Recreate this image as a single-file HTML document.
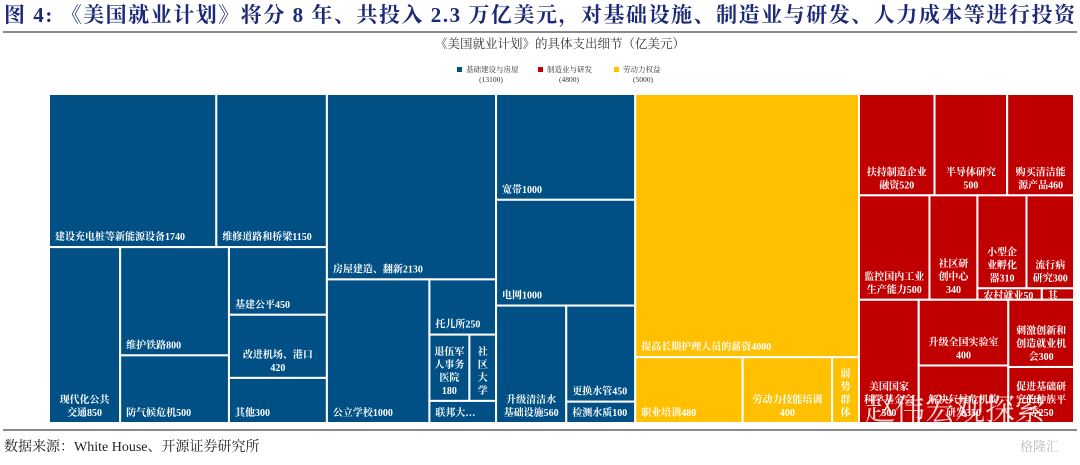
<!DOCTYPE html>
<html><head><meta charset="utf-8">
<style>
html,body{margin:0;padding:0;background:#fff;}
body{width:1080px;height:460px;overflow:hidden;position:relative;font-family:"Liberation Serif","Noto Serif CJK SC",serif;}
svg text{font-family:"Liberation Serif","Noto Serif CJK SC",serif;}
</style></head>
<body>
<svg id="chart" width="1080" height="460" viewBox="0 0 1080 460" xmlns="http://www.w3.org/2000/svg">
  <text x="4" y="22" font-size="21" font-weight="bold" fill="#1c2a78" textLength="1071" lengthAdjust="spacing">图 4:  《美国就业计划》将分 8 年、共投入 2.3 万亿美元，对基础设施、制造业与研发、人力成本等进行投资</text>
  <rect x="3" y="31" width="1074" height="2" fill="#8a8a8a"/>
  <text x="560" y="48" font-size="12.5" text-anchor="middle" fill="#333">《美国就业计划》的具体支出细节（亿美元）</text>
  <g font-size="7.5" fill="#333">
    <rect x="457" y="67" width="5" height="5" fill="#005086"/>
    <text x="466" y="72">基础建设与房屋</text>
    <text x="491" y="82" text-anchor="middle">(13100)</text>
    <rect x="538" y="67" width="5" height="5" fill="#c00000"/>
    <text x="547" y="72">制造业与研发</text>
    <text x="569" y="82" text-anchor="middle">(4800)</text>
    <rect x="614" y="67" width="5" height="5" fill="#ffc000"/>
    <text x="623" y="72">劳动力权益</text>
    <text x="643" y="82" text-anchor="middle">(5000)</text>
  </g>
  <g id="cells"></g>
  <text x="865" y="420" font-size="30" fill="#ffffff" fill-opacity="0.85" font-family="Liberation Sans, Noto Sans CJK SC, sans-serif">赵伟宏观探索</text>
  <rect x="3" y="429" width="1074" height="2" fill="#8a8a8a"/>
  <text x="4" y="451" font-size="14" fill="#222">数据来源：White House、开源证券研究所</text>
  <text x="1020" y="451" font-size="13" fill="#bbb" font-family="Liberation Sans, Noto Sans CJK SC, sans-serif">格隆汇</text>
</svg>
<script>
const leafLabels = [
 "建设充电桩等新能源设备1740","维修道路和桥梁1150","现代化公共|交通850","维护铁路800","防气候危机500",
 "基建公平450","改进机场、港口|420","其他300",
 "房屋建造、翻新2130","公立学校1000","托儿所250","退伍军|人事务|医院|180","社|区|大|学","联邦大…",
 "宽带1000","电网1000","升级清洁水|基础设施560","更换水管450","检测水质100",
 "提高长期护理人员的薪资4000","职业培训480","劳动力技能培训|400","弱|势|群|体",
 "扶持制造企业|融资520","半导体研究|500","购买清洁能|源产品460",
 "监控国内工业|生产能力500","社区研|创中心|340","小型企|业孵化|器310","流行病|研究300","农村就业50","其",
 "美国国家|科学基金会|500","升级全国实验室|400","解决气候危机的|研发350","刺激创新和|创造就业机|会300","促进基础研|究的种族平|等250"
];
const leafValues = [1740,1150,850,800,500,450,420,300,2130,1000,250,180,120,100,1000,1000,560,450,100,4000,480,400,120,520,500,460,500,340,310,300,50,25,500,400,350,300,250];
const leafGroup = [0,0,0,0,0,0,0,0,0,0,0,0,0,0,0,0,0,0,0,1,1,1,1,2,2,2,2,2,2,2,2,2,2,2,2,2,2];
const groupColors = ["#005086","#ffc000","#c00000"];

const tree = {d:"h",c:[
 {d:"h",c:[
   {d:"v",c:[{d:"h",c:[0,1]},{d:"h",c:[2,{d:"v",c:[3,4]},{d:"v",c:[5,6,7]}]}]},
   {d:"v",c:[8,{d:"h",c:[9,{d:"v",c:[10,{d:"h",c:[11,12]},13]}]}]},
   {d:"v",c:[14,15,{d:"h",c:[16,{d:"v",c:[17,18]}]}]}
 ]},
 {d:"v",c:[19,{d:"h",c:[20,21,22]}]},
 {d:"v",c:[{d:"h",c:[23,24,25]},{d:"h",c:[26,27,{d:"v",c:[{d:"h",c:[28,29]},{d:"h",c:[30,31]}]}]},{d:"h",c:[32,{d:"v",c:[33,34]},{d:"v",c:[35,36]}]}]}
]};
const X0=49,Y0=94,X1=1074,Y1=423;
function total(n){return typeof n==="number"?leafValues[n]:n.c.reduce((s,k)=>s+total(k),0);}
const NS="http://www.w3.org/2000/svg";
const g=document.getElementById("cells");
function drawLeaf(i,x,y,w,h){
  const r=document.createElementNS(NS,"rect");
  
  
  r.setAttribute("x",x);r.setAttribute("y",y);r.setAttribute("width",w);r.setAttribute("height",h);
  r.setAttribute("fill",groupColors[leafGroup[i]]);r.setAttribute("stroke","#fff");r.setAttribute("stroke-width","2");
  g.appendChild(r);
  const lines=leafLabels[i].split("|");
  const multi=lines.length>1;
  const t=document.createElementNS(NS,"text");
  
  
  t.setAttribute("font-size","10");t.setAttribute("font-weight","bold");t.setAttribute("fill","#fff");
  t.setAttribute("text-anchor",multi?"middle":"start");
  const bx=multi?x+w/2:x+6;
  const small=h<16;
  const base=small?y+h-1:y+h-7;
  lines.forEach((ln,k)=>{
    const s=document.createElementNS(NS,"tspan");
    s.setAttribute("x",bx);s.setAttribute("y",base-(lines.length-1-k)*13);
    s.textContent=ln;t.appendChild(s);
  });
  g.appendChild(t);
}
function layout(n,x,y,w,h){
  if(typeof n==="number"){drawLeaf(n,x,y,w,h);return;}
  const T=total(n);let off=0;
  n.c.forEach(k=>{
    const f=total(k)/T;
    if(n.d==="h"){layout(k,x+off,y,w*f,h);off+=w*f;}
    else{layout(k,x,y+off,w,h*f);off+=h*f;}
  });
}
layout(tree,X0,Y0,X1-X0,Y1-Y0);
</script>
</body></html>
